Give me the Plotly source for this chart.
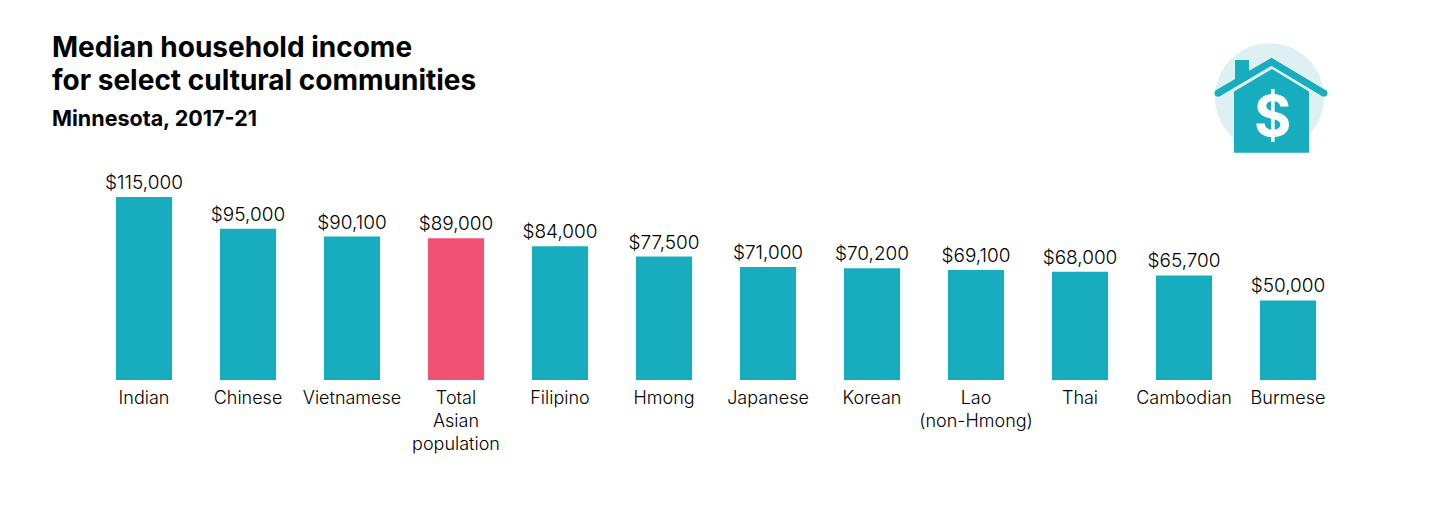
import plotly.graph_objects as go

# chart data
communities = ["Indian", "Chinese", "Vietnamese", "Total<br>Asian<br>population", "Filipino", "Hmong",
               "Japanese", "Korean", "Lao<br>(non-Hmong)", "Thai", "Cambodian", "Burmese"]
income = [115000, 95000, 90100, 89000, 84000, 77500, 71000, 70200, 69100, 68000, 65700, 50000]
value_labels = ["$115,000", "$95,000", "$90,100", "$89,000", "$84,000", "$77,500",
                "$71,000", "$70,200", "$69,100", "$68,000", "$65,700", "$50,000"]

TEAL = "#17adbf"
PINK = "#f05274"
INK = "#000000"
FONT = "Inter"
W, H = 1435, 523
# body margin of the page shifts everything
OFF = 8
L, R, T, B = 92 - OFF, 1340 - OFF, 180.5 - OFF, 380.5 - OFF


def px(x):
    return (x - OFF - L) / (R - L)


def py(y):
    return (B - (y - OFF)) / (B - T)


def poly(points):
    return "M " + " L ".join(f"{px(x)} {py(y)}" for x, y in points) + " Z"


def dot(x, y, r):
    return dict(type="circle", xref="paper", yref="paper", x0=px(x - r), x1=px(x + r), y0=py(y - r), y1=py(y + r),
                fillcolor=TEAL, line_width=0)


def note(text, x, y, size, color="black", xanchor="left"):
    return dict(text=text, x=px(x), y=py(y), xref="paper", yref="paper", xanchor=xanchor, yanchor="middle",
                showarrow=False, font=dict(family=FONT, size=size, color=color, weight=700))


colors = [PINK if c.startswith("Total") else TEAL for c in communities]

fig = go.Figure(go.Bar(
    x=communities, y=income, width=0.54,
    marker=dict(color=colors, line=dict(width=0)),
    text=value_labels, textposition="outside", cliponaxis=False, constraintext="none",
    textfont=dict(family=FONT, size=19, color=INK, weight=300),
))

# house icon
ROOF = f"M {px(1218)} {py(92.2)} L {px(1271.5)} {py(60.7)} L {px(1324)} {py(92.2)}"
shapes = [
    dict(type="circle", xref="paper", yref="paper", x0=px(1215), x1=px(1324), y0=py(42), y1=py(151),
         fillcolor="#dff0f3", line_width=0),
    dict(type="path", xref="paper", yref="paper", path=poly([(1235, 59), (1249, 59), (1249, 72), (1235, 80)]),
         fillcolor=TEAL, line_width=0),
    dict(type="path", xref="paper", yref="paper",
         path=poly([(1234, 90.5), (1272, 68), (1309, 90.5), (1309, 152), (1234, 152)]),
         fillcolor=TEAL, line_width=0),
    dict(type="path", xref="paper", yref="paper", path=ROOF, line=dict(color=TEAL, width=7)),
    dot(1218, 92.2, 3.5),
    dot(1324, 92.2, 3.5),
]

annotations = [
    note("Median household income", 50, 46, 28),
    note("for select cultural communities", 50, 79, 28),
    note("Minnesota, 2017-21", 50, 117, 21.5),
    note("$", 1272, 115, 57, color="white", xanchor="center"),
]

fig.update_layout(
    width=W - 2 * OFF, height=H - 2 * OFF,
    margin=dict(l=L, r=W - 2 * OFF - R, t=T, b=H - 2 * OFF - B),
    paper_bgcolor="white", plot_bgcolor="white",
    showlegend=False, bargap=0.46,
    font=dict(family=FONT, color=INK),
    xaxis=dict(showline=False, ticks="outside", ticklen=1, tickcolor="rgba(0,0,0,0)",
               tickfont=dict(family=FONT, size=18, color=INK, weight=300), tickangle=0),
    yaxis=dict(visible=False, range=[0, 125000]),
    shapes=shapes, annotations=annotations,
)

fig.write_html("out.html")
